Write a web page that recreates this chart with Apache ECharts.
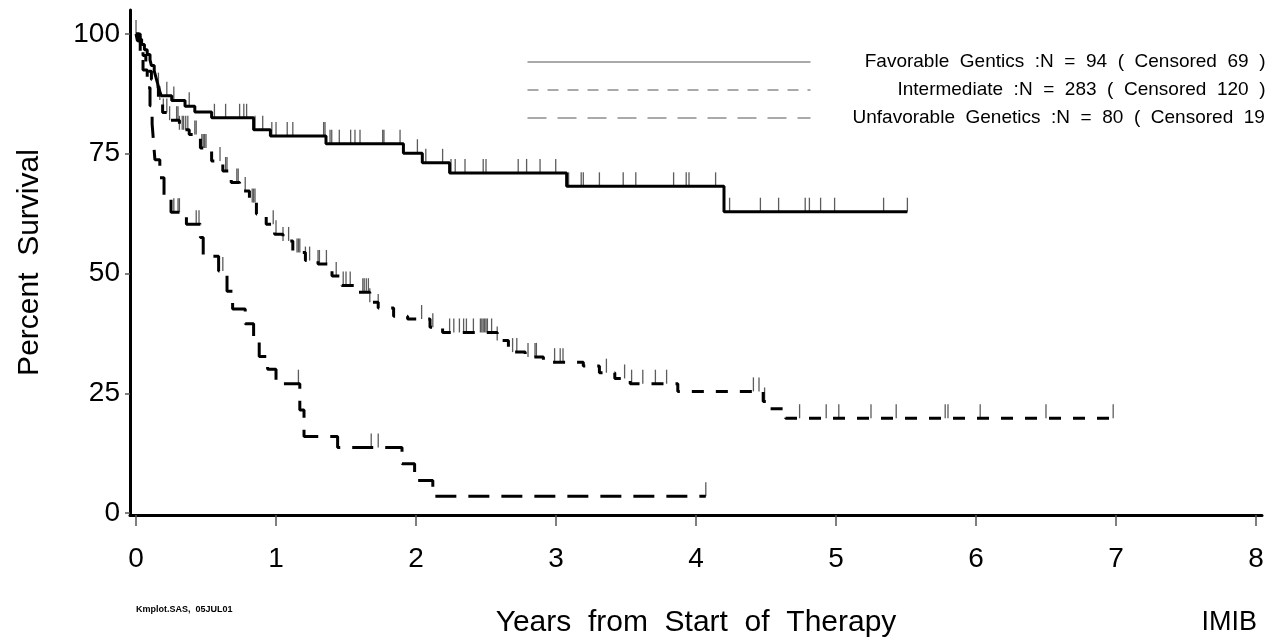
<!DOCTYPE html>
<html><head><meta charset="utf-8">
<script src="https://cdn.jsdelivr.net/npm/echarts@6/dist/echarts.min.js"></script>
<style>html,body{margin:0;padding:0;background:#fff}#c{width:1270px;height:643px}</style>
</head><body><div id="c"></div>
<script>
// ---- data ----
const seriesNames = ['Favorable', 'Intermediate', 'Unfavorable'];
const legendLabels = [
  'Favorable  Gentics  :N  =  94  (  Censored  69  )',
  'Intermediate  :N  =  283  (  Censored  120  )',
  'Unfavorable  Genetics  :N  =  80  (  Censored  19  )'
];

const favTimes = [0, 0.02, 0.04, 0.06, 0.08, 0.10, 0.11, 0.13, 0.14, 0.15, 0.16, 0.17, 0.18, 0.255, 0.35, 0.42, 0.54, 0.84, 0.96, 1.357, 1.91, 2.045, 2.24, 3.076, 4.20, 5.51];
const favSurv  = [100, 98.9, 97.8, 96.7, 95.7, 94.6, 93.4, 92.3, 91.2, 90.1, 89.0, 88.0, 87.1, 86.1, 84.9, 83.7, 82.5, 80.0, 78.7, 77.1, 75.1, 73.1, 71.0, 68.2, 62.9, 62.9];
const favCensor = [0.0, 0.16, 0.22, 0.27, 0.38, 0.56, 0.64, 0.74, 0.77, 0.79, 0.85, 0.905, 0.97, 1.0, 1.08, 1.12, 1.34, 1.35, 1.386, 1.398, 1.452, 1.533, 1.564, 1.6, 1.762, 1.771, 1.886, 2.01, 2.07, 2.19, 2.25, 2.28, 2.35, 2.48, 2.50, 2.73, 2.79, 2.886, 2.998, 3.09, 3.18, 3.195, 3.31, 3.48, 3.57, 3.84, 3.93, 3.95, 4.14, 4.24, 4.46, 4.59, 4.78, 4.81, 4.89, 4.99, 5.34, 5.51];

const intTimes = [0, 0.01, 0.03, 0.05, 0.07, 0.09, 0.11, 0.13, 0.16, 0.19, 0.24, 0.31, 0.38, 0.46, 0.54, 0.62, 0.68, 0.74, 0.81, 0.86, 0.93, 0.99, 1.05, 1.12, 1.21, 1.30, 1.40, 1.47, 1.56, 1.67, 1.73, 1.84, 1.94, 2.10, 2.19, 2.58, 2.66, 2.78, 2.91, 3.195, 3.31, 3.42, 3.53, 3.87, 4.48, 4.53, 4.64, 6.99];
const intSurv  = [100, 98.6, 97.2, 95.5, 94.0, 92.2, 90.5, 89.0, 86.2, 83.6, 82.0, 80.0, 79.0, 76.2, 73.5, 71.4, 69.0, 67.2, 64.8, 62.4, 60.3, 58.2, 56.8, 54.4, 52.7, 52.0, 49.5, 47.5, 46.1, 44.0, 42.8, 41.1, 40.5, 38.8, 37.7, 36.0, 33.6, 32.6, 31.5, 30.7, 29.3, 28.1, 27.0, 25.4, 23.3, 21.8, 19.8, 19.8];
const intCensor = [0.17, 0.195, 0.22, 0.24, 0.29, 0.30, 0.31, 0.33, 0.34, 0.355, 0.37, 0.42, 0.43, 0.47, 0.48, 0.49, 0.50, 0.60, 0.64, 0.65, 0.72, 0.73, 0.78, 0.83, 0.84, 0.85, 0.98, 1.0, 1.05, 1.09, 1.15, 1.16, 1.17, 1.21, 1.24, 1.30, 1.31, 1.36, 1.43, 1.48, 1.50, 1.53, 1.62, 1.63, 1.645, 1.66, 1.67, 1.73, 2.04, 2.12, 2.24, 2.27, 2.31, 2.34, 2.36, 2.41, 2.46, 2.47, 2.48, 2.49, 2.50, 2.51, 2.54, 2.58, 2.69, 2.72, 2.80, 2.85, 2.86, 2.99, 3.03, 3.05, 3.36, 3.49, 3.54, 3.62, 3.71, 3.79, 4.41, 4.45, 4.49, 4.74, 4.93, 5.02, 5.25, 5.43, 5.78, 5.80, 6.03, 6.50, 6.98];

const unfTimes = [0, 0.03, 0.05, 0.08, 0.10, 0.115, 0.125, 0.135, 0.17, 0.20, 0.25, 0.36, 0.46, 0.48, 0.59, 0.65, 0.69, 0.78, 0.84, 0.88, 0.94, 1.0, 1.17, 1.20, 1.44, 1.90, 1.99, 2.12, 4.07];
const unfSurv  = [100, 96.25, 92.5, 88.75, 85, 81.25, 77.5, 73.75, 70, 66.25, 62.8, 60.3, 57.5, 53.6, 50.5, 46.3, 42.6, 39.5, 36.2, 32.7, 30.0, 27.0, 21.5, 16.0, 13.7, 10.3, 6.8, 3.5, 3.5];
const unfCensor = [0.27, 0.30, 0.31, 0.43, 0.45, 0.62, 1.16, 1.68, 1.73, 4.07];

const xTicks = [0, 1, 2, 3, 4, 5, 6, 7, 8];
const yTicks = [0, 25, 50, 75, 100];

// ---- helpers ----
function levelAt(times, surv, t) {
  let s = surv[0];
  for (let i = 0; i < times.length; i++) { if (times[i] <= t + 1e-9) s = surv[i]; else break; }
  return s;
}
function pairs(times, surv) { return times.map((t, i) => [t, surv[i]]); }
function censorPts(times, surv, c) { return c.map(t => [t, levelAt(times, surv, t)]); }

const FONT = "'Liberation Sans', Arial, Helvetica, sans-serif";
const curveStyles = [
  { type: 'solid', legendType: 'solid' },
  { type: [12, 12], legendType: [11, 9] },
  { type: [21, 12], legendType: [19, 11] }
];
const groups = [[favTimes, favSurv, favCensor], [intTimes, intSurv, intCensor], [unfTimes, unfSurv, unfCensor]];

const series = [];
groups.forEach((g, i) => {
  series.push({
    name: seriesNames[i], type: 'line', step: 'end', symbol: 'none',
    data: pairs(g[0], g[1]),
    lineStyle: { color: '#000', width: 3, type: curveStyles[i].type, cap: 'butt' },
    itemStyle: { color: '#000' }, z: 3
  });
});
groups.forEach((g, i) => {
  series.push({
    name: seriesNames[i] + ' censored', type: 'scatter',
    data: censorPts(g[0], g[1], g[2]),
    symbol: 'rect', symbolSize: [1.3, 14], symbolOffset: [0, -7],
    itemStyle: { color: '#333' }, z: 2
  });
});

const chart = echarts.init(document.getElementById('c'), null, { renderer: 'canvas' });
chart.setOption({
  animation: false,
  backgroundColor: '#fff',
  textStyle: { fontFamily: FONT },
  grid: { left: 130, right: 8, top: 10, bottom: 126, containLabel: false },
  xAxis: {
    type: 'value', min: -0.043, max: 8.043,
    axisLine: { onZero: false, lineStyle: { color: '#000', width: 3 } },
    axisTick: { customValues: xTicks, length: 11, lineStyle: { color: '#555', width: 1.5 } },
    axisLabel: { customValues: xTicks, fontSize: 28, color: '#000', margin: 30, fontFamily: FONT },
    splitLine: { show: false },
    name: 'Years  from  Start  of  Therapy', nameLocation: 'middle', nameGap: 93,
    nameTextStyle: { fontSize: 30, color: '#000', fontFamily: FONT }
  },
  yAxis: {
    type: 'value', min: -0.4, max: 105,
    axisLine: { show: true, onZero: false, lineStyle: { color: '#000', width: 3 } },
    axisTick: { show: true, customValues: yTicks, length: 5, lineStyle: { color: '#555', width: 1.5 } },
    axisLabel: { customValues: yTicks, fontSize: 28, color: '#000', margin: 10, fontFamily: FONT },
    splitLine: { show: false },
    name: 'Percent  Survival', nameLocation: 'middle', nameGap: 85, nameRotate: 90,
    nameTextStyle: { fontSize: 30, color: '#000', fontFamily: FONT }
  },
  legend: {
    orient: 'vertical', left: 522, top: 43, itemWidth: 283, itemHeight: 14, itemGap: 0,
    selectedMode: false,
    data: seriesNames.map((n, i) => ({
      name: n,
      itemStyle: { opacity: 0 },
      lineStyle: { color: '#555', width: 1, type: curveStyles[i].legendType }
    })),
    formatter: function (name) {
      const i = seriesNames.indexOf(name);
      return i === 2 ? '{l|' + legendLabels[i] + '}' : '{r|' + legendLabels[i] + '}';
    },
    textStyle: {
      fontSize: 19, lineHeight: 28, color: '#000', fontFamily: FONT,
      rich: {
        r: { width: 450, align: 'right', fontSize: 19, lineHeight: 28, fontFamily: FONT, color: '#000' },
        l: { width: 413, align: 'left', padding: [0, 0, 0, 37], fontSize: 19, lineHeight: 28, fontFamily: FONT, color: '#000' }
      }
    }
  },
  graphic: [
    { type: 'text', left: 136, top: 605, style: { text: 'Kmplot.SAS,  05JUL01', font: 'bold 9px ' + FONT, fill: '#000' } },
    { type: 'text', right: 13, top: 609, style: { text: 'IMIB', font: '27px ' + FONT, fill: '#000' } }
  ],
  series: series
});
</script>
</body></html>
